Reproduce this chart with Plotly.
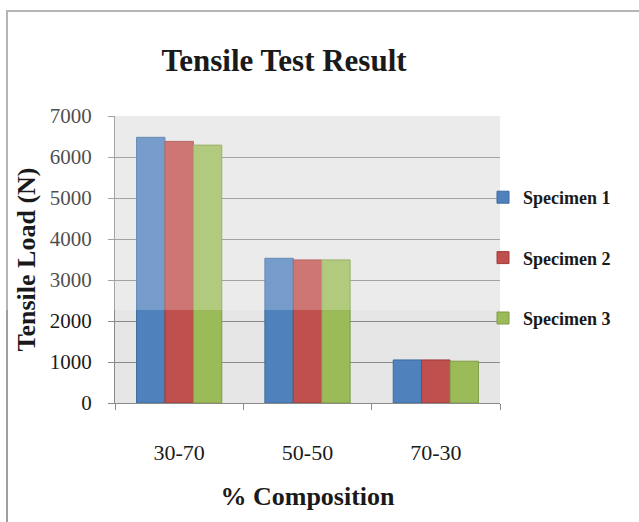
import plotly.graph_objects as go

# Tensile test data: load (N) per composition for three specimens
compositions = ["30-70", "50-50", "70-30"]
specimen_names = ["Specimen 1", "Specimen 2", "Specimen 3"]
specimen_1 = [6480, 3530, 1050]
specimen_2 = [6380, 3490, 1050]
specimen_3 = [6290, 3490, 1020]
y_ticks = [0, 1000, 2000, 3000, 4000, 5000, 6000, 7000]

fill_colors = ["#4f81bd", "#c0504d", "#9bbb59"]
edge_colors = ["#3e6a9e", "#9e3d3a", "#7e9c44"]

W, H = 639, 522
M_L, M_R, M_T, M_B = 115, 139, 116, 119
PLOT_W = W - M_L - M_R
PLOT_H = H - M_T - M_B


def px_x(px):
    return (px - M_L) / PLOT_W


def px_y(py):
    return (H - M_B - py) / PLOT_H


SERIF = "Liberation Serif, Times New Roman, serif"

fig = go.Figure()
for i, (name, vals) in enumerate(zip(specimen_names, [specimen_1, specimen_2, specimen_3])):
    fig.add_trace(go.Bar(
        x=compositions, y=vals, name=f"<b>{name}</b>", legendgroup=name,
        marker=dict(color=fill_colors[i], line=dict(color=edge_colors[i], width=1)),
    ))

fig.update_layout(
    width=W, height=H,
    margin=dict(l=M_L, r=M_R, t=M_T, b=M_B),
    paper_bgcolor="white",
    plot_bgcolor="#e6e6e6",
    barmode="group",
    bargap=0.336,
    bargroupgap=0,
    font=dict(family=SERIF, color="#1a1a1a"),
    title=dict(
        text="<b>Tensile Test Result</b>",
        font=dict(size=31, family=SERIF, color="#1a1a1a"),
        x=284 / W, xanchor="center", xref="container",
        y=1 - 60 / H, yanchor="middle", yref="container",
    ),
    legend=dict(
        x=px_x(483), xanchor="left",
        y=px_y(179), yanchor="top",
        font=dict(size=18, family=SERIF, color="#1a1a1a"),
        tracegroupgap=34,
        bgcolor="rgba(0,0,0,0)",
    ),
    showlegend=True,
    xaxis=dict(
        type="category",
        tickson="boundaries",
        ticks="outside", ticklen=6, tickcolor="#8a8a8a",
        showline=True, linecolor="#8a8a8a", linewidth=1,
        showgrid=False,
        tickfont=dict(size=22, family=SERIF, color="#1a1a1a"),
        ticklabelstandoff=30,
        title=dict(text="<b>% Composition</b>",
                   font=dict(size=26, family=SERIF, color="#1a1a1a"),
                   standoff=22),
    ),
    yaxis=dict(
        range=[0, 7000],
        tickvals=y_ticks,
        ticks="outside", ticklen=6, tickcolor="#8a8a8a",
        showline=True, linecolor="#8a8a8a", linewidth=1,
        showgrid=True, gridcolor="#8a8a8a", gridwidth=1,
        zeroline=False,
        tickfont=dict(size=21, family=SERIF, color="#1a1a1a"),
        ticklabelstandoff=12,
        title=dict(text="<b>Tensile Load (N)</b>",
                   font=dict(size=26, family=SERIF, color="#1a1a1a"),
                   standoff=6),
    ),
    shapes=[
        # page frame: left and top edges
        dict(type="line", xref="paper", yref="paper",
             x0=px_x(7), x1=px_x(7), y0=px_y(11), y1=px_y(H),
             line=dict(color="#a0a0a0", width=2), layer="above"),
        dict(type="line", xref="paper", yref="paper",
             x0=px_x(6), x1=px_x(W), y0=px_y(11), y1=px_y(11),
             line=dict(color="#a0a0a0", width=2), layer="above"),
        # light wash over the upper part of the page
        dict(type="rect", xref="paper", yref="paper",
             x0=px_x(0), x1=px_x(W), y0=px_y(310), y1=px_y(0),
             fillcolor="rgba(255,255,255,0.22)", line=dict(width=0),
             layer="above"),
    ],
)

fig.write_html("out.html")
